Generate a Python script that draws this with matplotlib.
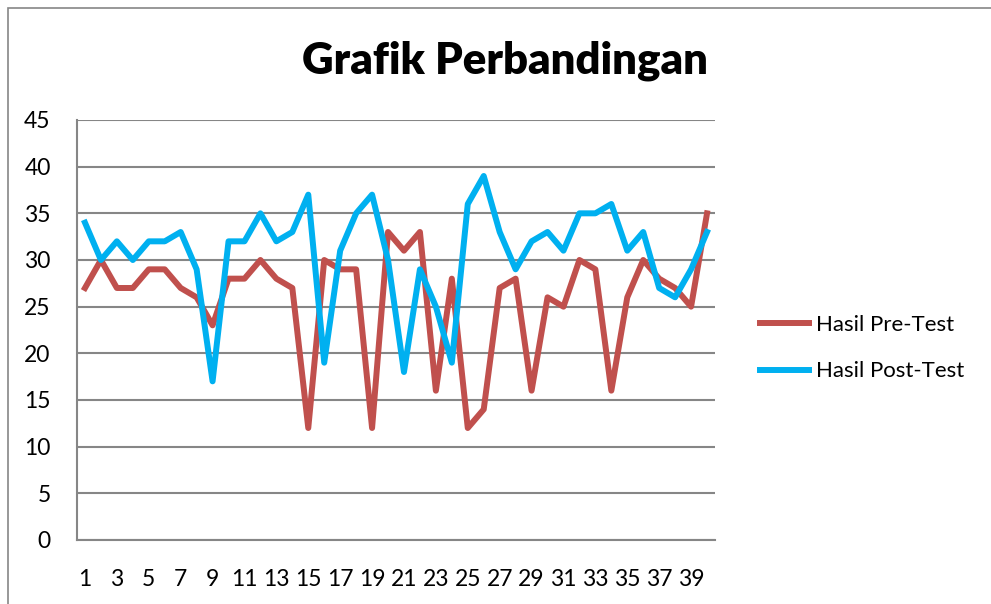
import matplotlib.pyplot as plt
from matplotlib.patches import Rectangle

plt.rcParams['font.family'] = ['Lato', 'DejaVu Sans']

siswa = list(range(1, 41))
pre_test = [27, 30, 27, 27, 29, 29, 27, 26, 23, 28,
            28, 30, 28, 27, 12, 30, 29, 29, 12, 33,
            31, 33, 16, 28, 12, 14, 27, 28, 16, 26,
            25, 30, 29, 16, 26, 30, 28, 27, 25, 35]
post_test = [34, 30, 32, 30, 32, 32, 33, 29, 17, 32,
             32, 35, 32, 33, 37, 19, 31, 35, 37, 30,
             18, 29, 25, 19, 36, 39, 33, 29, 32, 33,
             31, 35, 35, 36, 31, 33, 27, 26, 29, 33]
x_labels = [str(i) for i in range(1, 41, 2)]
y_ticks = list(range(0, 50, 5))

fig = plt.figure(figsize=(9.91, 6.04), dpi=100)
ax = fig.add_axes([77 / 991, 64 / 604, 638 / 991, 420 / 604])

# outer chart border (right and bottom edges fall outside the image)
fig.patches.append(Rectangle((8 / 991, -0.05), 1.2, 1.05 - 8 / 604, transform=fig.transFigure,
                             fill=False, edgecolor="#868686", linewidth=1.2))

ax.plot(siswa, pre_test, color="#C0504D", linewidth=4.3, label="Hasil Pre-Test",
        solid_joinstyle="round")
ax.plot(siswa, post_test, color="#00B0F0", linewidth=4.3, label="Hasil Post-Test",
        solid_joinstyle="round")

ax.set_xlim(0.5, 40.5)
ax.set_ylim(0, 45)
ax.set_yticks(y_ticks)
ax.set_xticks(range(1, 41, 2))
ax.set_xticklabels(x_labels)
ax.tick_params(axis="both", length=0, labelsize=16.5)
ax.tick_params(axis="y", pad=19)
ax.tick_params(axis="x", pad=21)
for lbl in ax.get_yticklabels():
    lbl.set_horizontalalignment("right")

ax.grid(axis="y", color="#868686", linewidth=1.5)
ax.set_axisbelow(True)
for side in ["top", "right"]:
    ax.spines[side].set_visible(False)
for side in ["left", "bottom"]:
    ax.spines[side].set_color("#868686")
    ax.spines[side].set_linewidth(1.5)

fig.text(505 / 991, 1 - 61 / 604, "Grafik Perbandingan", ha="center", va="center",
         fontsize=31.5, fontweight="heavy")

ax.legend(loc="center left", bbox_to_anchor=(740 / 991, 1 - 348 / 604),
          bbox_transform=fig.transFigure, frameon=False, fontsize=16,
          handlelength=2.2, handletextpad=0.3, labelspacing=1.2)

fig.savefig("out.png", dpi=100)
